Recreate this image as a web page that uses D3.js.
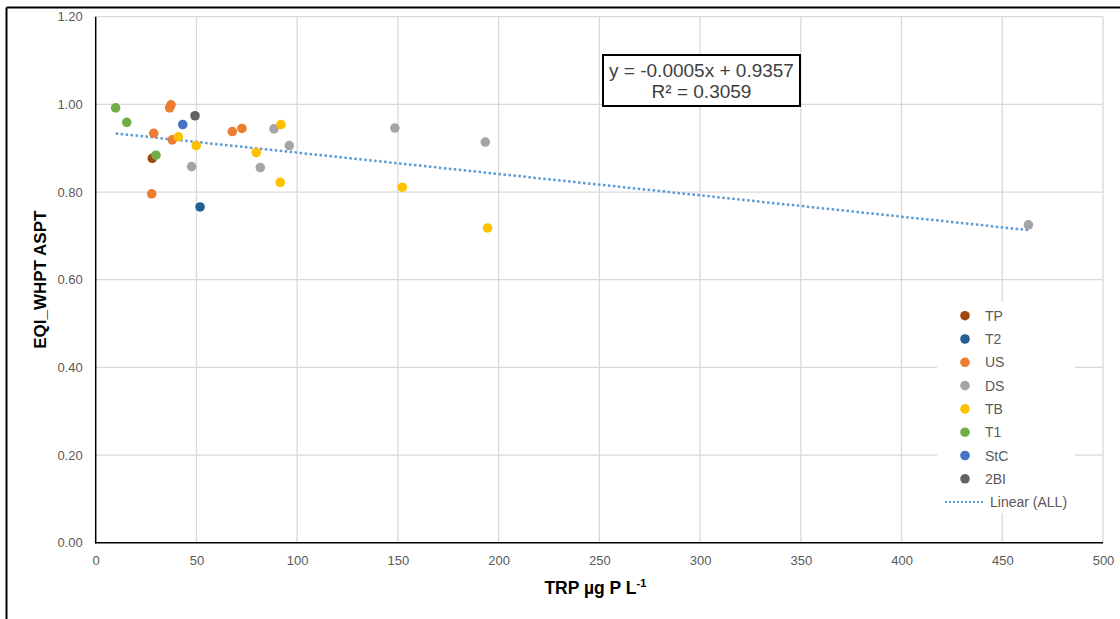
<!DOCTYPE html>
<html>
<head>
<meta charset="utf-8">
<script src="https://cdn.jsdelivr.net/npm/d3@7"></script>
<style>
  html, body { margin: 0; padding: 0; background: #fff; }
  svg { display: block; font-family: "Liberation Sans", Arial, sans-serif; }
</style>
</head>
<body>
<svg id="chart" width="1120" height="619"></svg>
<script>
// ---- data ----
const seriesNames = ["TP", "T2", "US", "DS", "TB", "T1", "StC", "2BI"];
const seriesColors = ["#9E480E", "#255E91", "#ED7D31", "#A5A5A5", "#FFC000", "#70AD47", "#4472C4", "#636363"];
const TP  = [[28.1, 0.877]];
const T2  = [[51.8, 0.766]];
const US  = [[27.8, 0.796], [28.8, 0.934], [36.7, 0.992], [37.4, 0.999], [38.0, 0.919], [67.8, 0.938], [72.6, 0.945]];
const DS  = [[47.6, 0.858], [81.7, 0.856], [88.5, 0.944], [96.1, 0.906], [148.5, 0.946], [193.4, 0.914], [463, 0.725]];
const TB  = [[41.0, 0.926], [49.9, 0.906], [79.7, 0.890], [91.6, 0.822], [92.0, 0.954], [152.2, 0.811], [194.5, 0.718]];
const T1  = [[9.9, 0.992], [15.4, 0.959], [29.9, 0.884]];
const StC = [[43.2, 0.954]];
const BI2 = [[49.3, 0.974]];
const seriesData = [TP, T2, US, DS, TB, T1, StC, BI2];

const xTicks = [0, 50, 100, 150, 200, 250, 300, 350, 400, 450, 500];
const yTicks = [0, 0.2, 0.4, 0.6, 0.8, 1.0, 1.2];
const trendSlope = -0.000487;      // drawn line
const trendIntercept = 0.9386;
const equationLines = ["y = -0.0005x + 0.9357", "R\u00B2 = 0.3059"];
const trendLabel = "Linear (ALL)";
const xTitle = "TRP \u00B5g P L";
const xTitleSup = "-1";
const yTitle = "EQI_WHPT ASPT";

// ---- layout ----
const svg = d3.select("#chart");
const L = 95.7, R = 1103, T = 16.7, B = 542.7;
const x = d3.scaleLinear().domain([0, 500]).range([L, R]);
const y = d3.scaleLinear().domain([0, 1.2]).range([B, T]);

// outer frame (left and top edges visible)
svg.append("line").attr("x1", 6.5).attr("x2", 6.5).attr("y1", 7.5).attr("y2", 619)
  .attr("stroke", "#000").attr("stroke-width", 2);
svg.append("line").attr("x1", 6.5).attr("x2", 1120).attr("y1", 7.5).attr("y2", 7.5)
  .attr("stroke", "#000").attr("stroke-width", 2);

// gridlines
const grid = svg.append("g").attr("stroke", "#D9D9D9").attr("stroke-width", 1.3);
grid.selectAll(".gx").data(xTicks.filter(d => d > 0)).enter().append("line")
  .attr("x1", d => x(d)).attr("x2", d => x(d)).attr("y1", T).attr("y2", B);
grid.selectAll(".gy").data(yTicks.filter(d => d > 0)).enter().append("line")
  .attr("x1", L).attr("x2", R).attr("y1", d => y(d)).attr("y2", d => y(d));

// axes
const xAxis = d3.axisBottom(x).tickValues(xTicks).tickSize(0).tickPadding(13).tickFormat(d3.format("d"));
const yAxis = d3.axisLeft(y).tickValues(yTicks).tickSize(0).tickPadding(13).tickFormat(d3.format(".2f"));
const gx = svg.append("g").attr("transform", `translate(0,${B})`).call(xAxis);
const gy = svg.append("g").attr("transform", `translate(${L},0)`).call(yAxis);
[gx, gy].forEach(g => {
  g.select(".domain").remove();
  g.selectAll("text").attr("fill", "#595959").style("font-size", "13px")
    .style("font-family", "'Liberation Sans', Arial, sans-serif");
});
svg.append("line").attr("x1", L).attr("x2", L).attr("y1", T).attr("y2", B + 0.75)
  .attr("stroke", "#000").attr("stroke-width", 1.5);
svg.append("line").attr("x1", L - 0.75).attr("x2", R).attr("y1", B).attr("y2", B)
  .attr("stroke", "#000").attr("stroke-width", 1.5);

// trend line
const allX = seriesData.flat().map(d => d[0]);
const xMin = d3.min(allX), xMax = d3.max(allX);
svg.append("line")
  .attr("x1", x(xMin)).attr("y1", y(trendIntercept + trendSlope * xMin))
  .attr("x2", x(xMax)).attr("y2", y(trendIntercept + trendSlope * xMax))
  .attr("stroke", "#5B9BD5").attr("stroke-width", 2.5).attr("stroke-dasharray", "2.5,2.5");

// points
seriesData.forEach((data, i) => {
  svg.append("g").selectAll("circle").data(data).enter().append("circle")
    .attr("cx", d => x(d[0])).attr("cy", d => y(d[1])).attr("r", 4.8)
    .attr("fill", seriesColors[i]);
});

// equation box
const eq = svg.append("g");
eq.append("rect").attr("x", 603).attr("y", 55).attr("width", 197).attr("height", 51)
  .attr("fill", "#fff").attr("stroke", "#000").attr("stroke-width", 2);
eq.selectAll("text").data(equationLines).enter().append("text")
  .attr("x", 701.5).attr("y", (d, i) => 77 + i * 21)
  .attr("text-anchor", "middle").attr("fill", "#404040").style("font-size", "19px")
  .text(d => d);

// legend
const lg = svg.append("g");
lg.append("rect").attr("x", 937).attr("y", 302).attr("width", 138).attr("height", 211).attr("fill", "#fff");
const rowY = i => 315.7 + i * 23.3;
seriesNames.forEach((n, i) => {
  lg.append("circle").attr("cx", 965).attr("cy", rowY(i)).attr("r", 4.8).attr("fill", seriesColors[i]);
  lg.append("text").attr("x", 985).attr("y", rowY(i) + 5).attr("fill", "#595959")
    .style("font-size", "14px").text(n);
});
lg.append("line").attr("x1", 945).attr("x2", 983).attr("y1", rowY(8)).attr("y2", rowY(8))
  .attr("stroke", "#5B9BD5").attr("stroke-width", 2).attr("stroke-dasharray", "2,2");
lg.append("text").attr("x", 990).attr("y", rowY(8) + 5).attr("fill", "#595959")
  .style("font-size", "14px").text(trendLabel);

// axis titles
const xt = svg.append("text").attr("x", (L + R) / 2 - 4).attr("y", 594).attr("text-anchor", "middle")
  .attr("fill", "#000").style("font-size", "17.5px").style("font-weight", "bold");
xt.append("tspan").text(xTitle);
xt.append("tspan").attr("dy", -7).style("font-size", "11px").text(xTitleSup);

svg.append("text").attr("transform", `translate(46,${(T + B) / 2}) rotate(-90)`)
  .attr("text-anchor", "middle").attr("fill", "#000").style("font-size", "17px")
  .style("font-weight", "bold").text(yTitle);
</script>
</body>
</html>
